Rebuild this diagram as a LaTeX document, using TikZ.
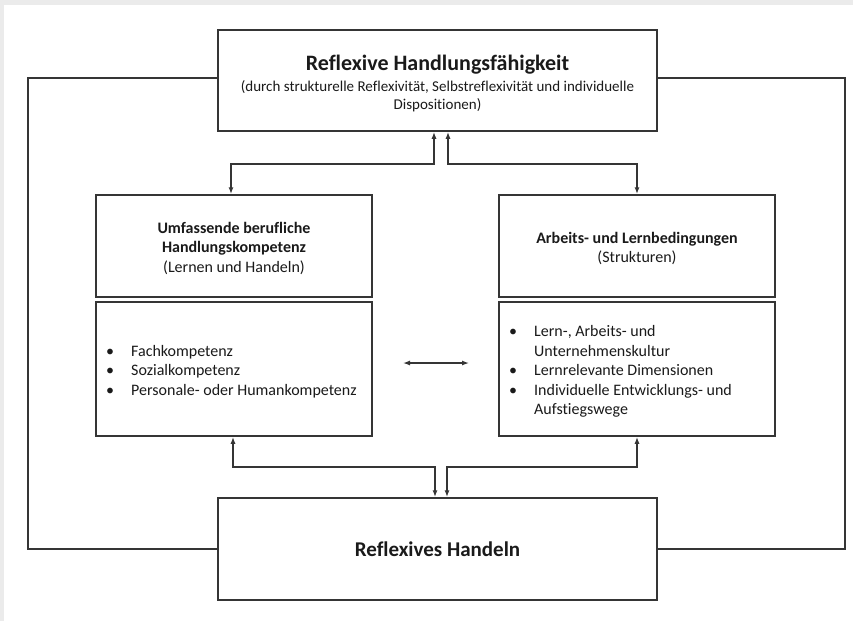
\documentclass[tikz,border=0pt]{standalone}
\usepackage{fontspec}
\setmainfont{Carlito}[Ligatures=NoCommon]
\usetikzlibrary{arrows.meta}
\definecolor{linec}{HTML}{353535}
\definecolor{txtc}{HTML}{1A1A1A}
\definecolor{bgc}{HTML}{EBEBEB}
\tikzset{
  box/.style={draw=linec, line width=1.5pt, fill=white, inner sep=0pt, text=txtc},
  conn/.style={draw=linec, line width=1.5pt},
  twotip/.style={{Latex[length=7pt,width=5pt]}-{Latex[length=7pt,width=5pt]}},
  listtxt/.style={anchor=west, inner sep=0pt, text=txtc, font=\fontsize{16}{19.5}\selectfont}
}
\begin{document}
\begin{tikzpicture}[x=1pt,y=-1pt]
\fill[bgc] (0,0) rectangle (853,621);
\fill[white] (4,5) rectangle (853,621);
\useasboundingbox (0,0) rectangle (853,621);

% boxes
\node[box, minimum width=439pt, minimum height=101pt] (top) at (437.5,80.5) {};
\node[text=txtc, inner sep=0pt] (toptxt) at (437.5,83)
  {\begin{minipage}{430pt}\centering
   \fontsize{22}{24}\selectfont\bfseries Reflexive Handlungsfähigkeit\par\vspace{3pt}
   \fontsize{15}{18}\selectfont\mdseries (durch strukturelle Reflexivität, Selbstreflexivität und individuelle\\
   Dispositionen)\par
   \end{minipage}};

\node[box, minimum width=276pt, minimum height=102pt] (lm) at (234,246) {};
\node[text=txtc, inner sep=0pt] (lmtxt) at (234,248)
  {\begin{minipage}{270pt}\centering\fontsize{16}{19.5}\selectfont
   \textbf{Umfassende berufliche}\\ \textbf{Handlungskompetenz}\\ (Lernen und Handeln)\par
   \end{minipage}};
\node[box, minimum width=276pt, minimum height=134pt] (ll) at (234,369) {};

\node[box, minimum width=276pt, minimum height=102pt] (rm) at (637,246) {};
\node[text=txtc, inner sep=0pt] (rmtxt) at (637,248.5)
  {\begin{minipage}{270pt}\centering\fontsize{16}{19.5}\selectfont
   \textbf{Arbeits- und Lernbedingungen}\\ (Strukturen)\par
   \end{minipage}};
\node[box, minimum width=276pt, minimum height=134pt] (rl) at (637,369) {};

\node[box, minimum width=439pt, minimum height=102pt] (bot) at (437.5,549)
  {\fontsize{21}{23}\selectfont\bfseries Reflexives Handeln};

% lists
\node[listtxt] (llist) at (106,372)
  {\begin{tabular}{@{}p{21pt}@{\hspace{4pt}}l@{}}
   • & Fachkompetenz\\
   • & Sozialkompetenz\\
   • & Personale- oder Humankompetenz
   \end{tabular}};
\node[listtxt] (rlist) at (509,372)
  {\begin{tabular}{@{}p{21pt}@{\hspace{4pt}}l@{}}
   • & Lern-, Arbeits- und\\
     & Unternehmenskultur\\
   • & Lernrelevante Dimensionen\\
   • & Individuelle Entwicklungs- und\\
     & Aufstiegswege
   \end{tabular}};

% coordinates
\coordinate (tl) at (434,164);
\coordinate (tr) at (448,164);
\coordinate (bl) at (435,467);
\coordinate (br) at (447,467);
\coordinate (lx) at (231,0);
\coordinate (lbx) at (233,0);
\coordinate (ha) at (403,363);
\coordinate (hb) at (469,363);
\coordinate (ol) at (28,78);
\coordinate (or) at (845,78);

% connectors top
\draw[conn, twotip] (top.south -| tl) -- (tl) -- (tl -| lx) -- (lm.north -| lx);
\draw[conn, twotip] (top.south -| tr) -- (tr) -- (tr -| rm.north) -- (rm.north);
% connectors bottom
\draw[conn, twotip] (ll.south -| lbx) -- (bl -| lbx) -- (bl) -- (bot.north -| bl);
\draw[conn, twotip] (rl.south) -- (br -| rl.south) -- (br) -- (bot.north -| br);
% middle double arrow
\draw[conn, twotip, line width=1.3pt] (ha) -- (hb);
% outer loops
\draw[conn] (top.west |- ol) -- (ol) -- (ol |- bot.west) -- (bot.west);
\draw[conn] (top.east |- or) -- (or) -- (or |- bot.east) -- (bot.east);
\end{tikzpicture}
\end{document}
